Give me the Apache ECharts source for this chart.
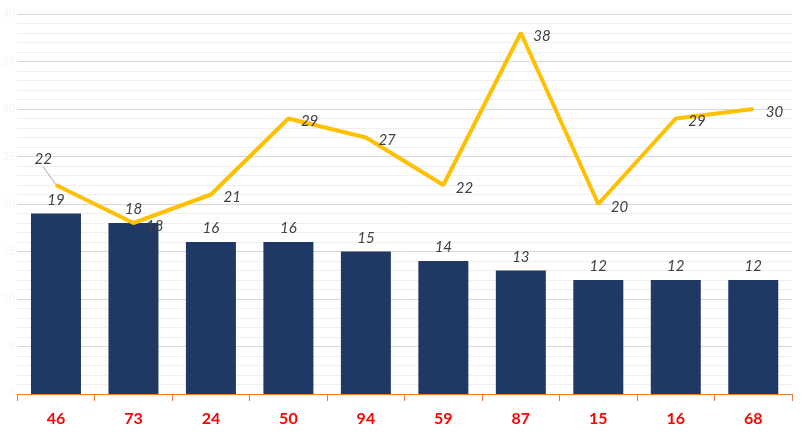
<!DOCTYPE html>
<html><head><meta charset="utf-8">
<script src="https://cdn.jsdelivr.net/npm/echarts@6/dist/echarts.min.js"></script>
<style>html,body{margin:0;padding:0;background:#fff}#c{width:807px;height:438px}</style>
</head><body><div id="c"></div>
<script>
var categories = ['46','73','24','50','94','59','87','15','16','68'];
var barValues = [19,18,16,16,15,14,13,12,12,12];
var lineValues = [22,18,21,29,27,22,38,20,29,30];
var yTicks = [0,5,10,15,20,25,30,35,40];

var lineData = lineValues.map(function(v,i){
  return i===0 ? {value:v,labelLine:{show:true,lineStyle:{color:'#a6a6a6',width:1}}} : {value:v};
});

var chart = echarts.init(document.getElementById('c'));
chart.setOption({
  animation:false,
  grid:{left:15,right:15,top:14,bottom:44,containLabel:false},
  xAxis:{type:'category',data:categories,
    axisLine:{lineStyle:{color:'#ED7D31',width:1}},
    axisTick:{show:true,length:7,lineStyle:{color:'#ED7D31'}},
    axisLabel:{color:'#FF0000',fontWeight:'bold',fontSize:16,fontFamily:'Lato',margin:17}},
  yAxis:{type:'value',min:yTicks[0],max:yTicks[yTicks.length-1],interval:5,
    axisLine:{show:false},axisTick:{show:false},
    axisLabel:{color:'#f4f4f4',fontSize:11,margin:2},
    splitLine:{lineStyle:{color:'#d9d9d9'}},
    minorTick:{show:false,splitNumber:5},
    minorSplitLine:{show:true,lineStyle:{color:'#efefef'}}},
  series:[
    {type:'bar',data:barValues,barWidth:50,itemStyle:{color:'#203864'},
     label:{show:true,position:'top',distance:6,color:'#404040',fontStyle:'italic',fontSize:15,fontFamily:'Lato'}},
    {type:'line',data:lineData,symbol:'circle',symbolSize:1,showSymbol:true,
     itemStyle:{color:'#FFC000'},lineStyle:{color:'#FFC000',width:4},z:3,
     label:{show:true,position:'right',distance:12,color:'#404040',fontStyle:'italic',fontSize:15,fontFamily:'Lato'},
     labelLine:{show:false},
     labelLayout:function(p){ if(p.dataIndex===0){ return {dx:-34,dy:-26}; } return {dy:3,hideOverlap:false}; }}
  ]
});
</script></body></html>
